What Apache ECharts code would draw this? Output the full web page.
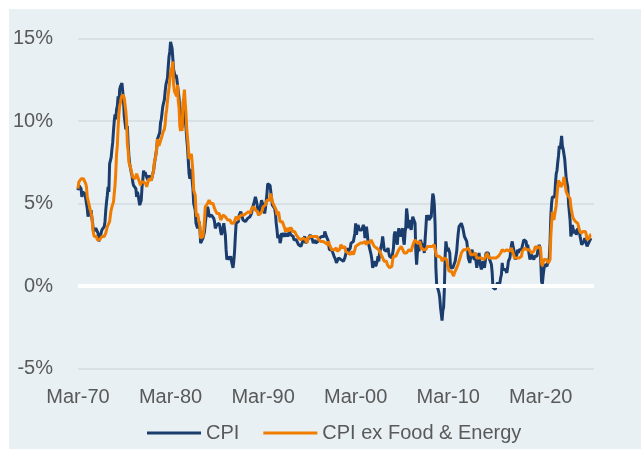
<!DOCTYPE html>
<html>
<head>
<meta charset="utf-8">
<script src="https://cdn.jsdelivr.net/npm/echarts@6/dist/echarts.min.js"></script>
<style>
html,body{margin:0;padding:0;background:#fff;}
#chart{width:641px;height:449px;}
</style>
</head>
<body>
<div id="chart"></div>
<script>
// Monthly categories: Mar-70 .. Dec-25
var monthNames = ['Jan','Feb','Mar','Apr','May','Jun','Jul','Aug','Sep','Oct','Nov','Dec'];
var categories = [];
for (var y = 1970; y <= 2025; y++) {
  for (var m = 0; m < 12; m++) {
    if (y === 1970 && m < 2) continue;
    categories.push(monthNames[m] + '-' + String(y % 100).padStart(2, '0'));
  }
}
var tickLabels = ['Mar-70','Mar-80','Mar-90','Mar-00','Mar-10','Mar-20'];
var yTicks = {min: -5, max: 15, interval: 5};

// CPI YoY %, Mar-70 .. Aug-25
var cpi = [
5.8,6.1,6.0,6.0,5.9,5.4,5.7,5.6,5.6,5.6,
5.3,5.0,4.7,4.2,4.4,4.6,4.4,4.6,4.1,3.8,3.3,3.3,
3.3,3.5,3.5,3.5,3.2,2.7,2.9,2.9,3.2,3.4,3.5,3.4,
3.6,3.9,4.6,5.1,5.5,6.0,5.7,7.4,7.4,7.8,8.3,8.7,
9.4,10.0,10.4,10.1,10.7,10.9,11.5,10.9,11.9,12.1,12.2,12.3,
11.8,11.2,10.3,10.2,9.5,9.4,9.7,8.6,7.9,7.4,7.4,6.9,
6.7,6.3,6.1,6.0,6.2,5.9,5.4,5.7,5.5,5.5,4.9,4.9,
5.2,6.0,6.4,7.0,6.7,6.9,6.8,6.6,6.6,6.4,6.7,6.7,
6.8,6.4,6.4,6.5,7.0,7.4,7.7,7.8,8.3,8.9,8.9,9.0,
9.3,9.9,10.1,10.5,10.9,10.9,11.3,11.8,12.2,12.1,12.6,13.3,
13.9,14.2,14.8,14.7,14.4,14.4,13.1,12.9,12.6,12.8,12.6,12.5,
11.8,11.4,10.5,10.0,9.8,9.6,10.8,10.8,11.0,10.1,9.6,8.9,
8.4,7.6,6.8,6.5,6.7,7.1,6.4,5.9,5.0,5.1,4.6,3.8,
3.7,3.5,3.6,3.9,3.5,2.6,2.5,2.6,2.9,2.9,3.3,3.8,
4.2,4.6,4.8,4.6,4.2,4.2,4.2,4.3,4.3,4.3,4.1,3.9,
3.5,3.5,3.7,3.7,3.8,3.8,3.6,3.3,3.1,3.2,3.5,3.8,
3.9,3.1,2.2,1.6,1.5,1.8,1.6,1.6,1.8,1.5,1.3,1.1,
1.5,2.1,3.0,3.8,3.9,3.7,3.9,4.3,4.4,4.5,4.5,4.4,
4.0,3.9,3.9,3.9,3.9,4.0,4.1,4.0,4.2,4.2,4.2,4.4,
4.7,4.8,5.0,5.1,5.4,5.2,5.0,4.7,4.3,4.5,4.7,4.6,
5.2,5.3,5.2,4.7,4.4,4.7,4.8,5.6,6.2,6.3,6.3,6.1,
5.7,5.3,4.9,4.9,5.0,4.7,4.4,3.8,3.4,2.9,3.0,3.1,
2.6,2.8,3.2,3.2,3.0,3.1,3.2,3.1,3.0,3.2,3.0,2.9,
3.3,3.2,3.1,3.2,3.2,3.0,2.8,2.8,2.7,2.8,2.7,2.7,
2.5,2.5,2.5,2.4,2.3,2.5,2.8,2.9,3.0,2.6,2.7,2.7,
2.8,2.9,2.9,3.1,3.2,3.0,2.8,2.6,2.5,2.8,2.6,2.5,
2.7,2.7,2.8,2.9,2.9,2.8,3.0,2.9,3.0,3.0,3.3,3.3,
3.0,3.0,2.8,2.5,2.2,2.3,2.2,2.2,2.2,2.1,1.8,1.7,
1.6,1.4,1.4,1.4,1.7,1.7,1.7,1.6,1.5,1.5,1.5,1.6,
1.7,1.6,1.7,2.3,2.1,2.0,2.1,2.3,2.6,2.6,2.6,2.7,
2.7,3.2,3.8,3.1,3.2,3.7,3.7,3.4,3.5,3.4,3.4,3.4,
3.7,3.5,2.9,3.3,3.6,3.2,2.7,2.7,2.6,2.1,1.9,1.6,
1.1,1.1,1.5,1.6,1.2,1.1,1.5,1.8,1.5,2.0,2.2,2.4,
2.6,3.0,3.0,2.2,2.1,2.1,2.1,2.2,2.3,2.0,1.8,1.9,
1.9,1.7,1.7,2.3,3.1,3.3,3.0,2.7,2.5,3.2,3.5,3.3,
3.0,3.0,3.1,3.5,2.8,2.5,3.2,3.6,4.7,4.3,3.5,3.4,
4.0,3.6,3.4,3.5,4.2,4.3,4.1,3.8,2.1,1.3,2.0,2.5,
2.1,2.4,2.8,2.6,2.7,2.7,2.4,2.0,2.8,3.5,4.3,4.1,
4.3,4.0,4.0,3.9,4.2,5.0,5.6,5.4,4.9,3.7,1.1,0.1,
0.0,0.2,-0.4,-0.7,-1.3,-1.4,-2.1,-1.5,-1.3,-0.2,1.8,2.7,
2.6,2.1,2.3,2.2,2.0,1.1,1.2,1.1,1.1,1.2,1.1,1.5,
1.6,2.1,2.7,3.2,3.6,3.6,3.6,3.8,3.9,3.5,3.4,3.0,
2.9,2.9,2.7,2.3,1.7,1.7,1.4,1.7,2.0,2.2,1.8,1.7,
1.6,2.0,1.5,1.1,1.4,1.8,2.0,1.5,1.2,1.0,1.2,1.5,
1.6,1.1,1.5,2.0,2.1,2.1,2.0,1.7,1.7,1.7,1.3,0.8,
-0.1,0.0,-0.1,-0.2,0.0,0.1,0.2,0.2,0.0,0.2,0.5,0.7,
1.4,1.0,0.9,1.1,1.0,1.0,0.8,1.1,1.5,1.6,1.7,2.1,
2.5,2.7,2.4,2.2,1.9,1.6,1.7,1.9,2.2,2.0,2.2,2.1,
2.1,2.2,2.4,2.5,2.8,2.9,2.9,2.7,2.3,2.5,2.2,1.9,
1.6,1.5,1.9,2.0,1.8,1.6,1.8,1.7,1.7,1.8,2.1,2.3,
2.5,2.3,1.5,0.3,0.1,0.6,1.0,1.3,1.4,1.2,1.2,1.4,
1.4,1.7,2.6,4.2,5.0,5.4,5.4,5.3,5.4,6.2,6.8,7.0,
7.5,7.9,8.5,8.3,8.6,9.1,8.5,8.3,8.2,7.7,7.1,6.5,
6.4,6.0,5.0,4.9,4.0,3.0,3.2,3.7,3.7,3.2,3.1,3.4,
3.1,3.2,3.5,3.4,3.3,3.0,2.9,2.5,2.4,2.6,2.7,2.9,
3.0,2.8,2.4,2.3,2.4,2.7,2.7,2.9
];

// CPI ex Food & Energy YoY %, Mar-70 .. Aug-25
var core = [
5.9,6.3,6.4,6.2,6.5,6.4,6.6,6.5,6.6,6.4,
6.2,6.0,5.4,5.2,5.0,4.8,4.6,4.5,4.2,3.6,3.2,3.0,
3.1,3.0,3.0,2.8,2.9,2.9,2.8,2.9,2.9,3.0,3.0,3.0,
3.0,3.1,3.2,3.4,3.6,3.7,3.5,3.9,4.3,4.6,4.8,4.7,
5.1,5.6,6.1,6.9,8.0,8.5,9.6,10.4,10.9,11.1,11.4,11.3,
11.6,11.7,11.4,11.0,10.6,10.0,8.6,8.2,7.5,7.4,7.2,7.0,
6.8,6.6,6.5,6.6,6.5,6.5,6.8,6.8,6.7,6.4,6.3,6.1,
6.3,6.2,6.2,6.3,6.3,6.4,6.2,6.0,6.2,6.2,6.5,6.5,
6.4,6.4,6.4,6.5,7.0,7.5,7.7,7.9,8.4,8.9,8.9,8.5,
8.6,8.8,8.9,9.1,9.3,9.3,9.5,9.8,10.4,10.7,11.2,11.3,
12.0,12.1,12.9,13.0,13.3,13.6,12.2,11.8,11.7,11.8,11.5,12.2,
11.2,10.8,9.7,9.4,9.6,9.4,11.1,11.4,11.9,11.1,10.5,9.5,
9.0,8.4,7.7,7.6,7.8,8.0,7.5,6.9,5.8,5.9,5.5,4.5,
4.2,4.4,4.5,4.4,3.6,2.9,2.8,3.0,3.0,3.4,4.0,4.8,
4.9,4.9,5.0,5.1,5.2,5.1,5.0,5.1,5.1,5.0,5.0,4.7,
4.6,4.6,4.4,4.4,4.4,4.4,4.2,4.0,4.1,4.1,4.3,4.3,
4.4,4.2,4.1,4.1,4.0,4.0,3.9,4.0,4.0,3.8,3.8,3.8,
3.8,3.8,3.8,4.2,4.1,4.1,4.0,4.2,4.3,4.3,4.3,4.2,
4.2,4.3,4.3,4.3,4.4,4.5,4.5,4.5,4.5,4.4,4.4,4.7,
4.6,4.6,4.8,4.7,4.6,4.5,4.6,4.5,4.3,4.3,4.4,4.4,
4.4,4.6,4.8,4.9,4.8,4.9,5.0,5.2,5.3,5.3,5.2,5.2,
5.6,5.5,5.1,5.1,5.0,4.8,4.7,4.6,4.3,4.4,4.5,4.4,
3.9,3.8,3.9,3.9,3.8,3.8,3.5,3.3,3.2,3.5,3.4,3.3,
3.5,3.4,3.5,3.5,3.3,3.3,3.3,3.3,3.2,3.1,3.2,3.2,
2.9,2.8,2.9,2.8,2.8,2.9,2.9,2.9,3.0,2.8,2.8,2.6,
2.9,3.0,3.0,3.0,3.1,3.0,3.0,3.0,2.9,3.0,3.0,3.0,
3.0,2.9,2.8,2.7,2.7,2.7,2.7,2.6,2.7,2.6,2.6,2.6,
2.5,2.5,2.5,2.7,2.5,2.4,2.4,2.2,2.2,2.3,2.2,2.2,
2.2,2.3,2.1,2.1,2.2,2.2,2.2,2.5,2.5,2.3,2.4,2.4,
2.4,2.1,2.1,2.2,2.0,2.1,2.1,1.9,2.0,2.1,2.1,1.9,
2.0,2.2,2.4,2.3,2.4,2.5,2.5,2.6,2.6,2.5,2.6,2.6,
2.6,2.7,2.7,2.6,2.5,2.7,2.7,2.7,2.6,2.6,2.8,2.7,
2.6,2.6,2.4,2.5,2.5,2.3,2.2,2.4,2.2,2.2,2.0,1.9,
1.9,1.7,1.7,1.5,1.6,1.5,1.5,1.3,1.2,1.3,1.1,1.1,
1.1,1.2,1.6,1.8,1.7,1.9,1.8,1.7,2.0,2.0,2.2,2.2,
2.3,2.4,2.3,2.2,2.2,2.0,2.1,2.1,2.0,2.1,2.1,2.2,
2.1,2.1,2.1,2.3,2.4,2.6,2.7,2.8,2.9,2.7,2.6,2.6,
2.7,2.7,2.5,2.3,2.2,2.2,2.2,2.1,2.1,2.2,2.3,2.4,
2.5,2.3,2.4,2.3,2.3,2.4,2.5,2.5,2.5,2.2,2.0,1.8,
1.7,1.8,1.8,1.9,1.8,1.7,1.5,1.4,1.5,1.7,1.7,1.8,
1.6,1.3,1.1,0.9,0.9,0.9,0.9,0.9,0.8,0.6,0.8,0.8,
1.0,1.1,1.2,1.3,1.5,1.6,1.8,2.0,2.0,2.1,2.2,2.2,
2.3,2.2,2.3,2.3,2.3,2.2,2.1,1.9,2.0,2.0,1.9,1.9,
1.9,2.0,1.9,1.7,1.7,1.6,1.7,1.8,1.7,1.7,1.7,1.7,
1.6,1.6,1.7,1.8,2.0,1.9,1.9,1.7,1.7,1.8,1.7,1.6,
1.6,1.7,1.8,1.8,1.7,1.8,1.8,1.8,1.9,1.9,2.0,2.1,
2.2,2.3,2.2,2.1,2.2,2.2,2.2,2.3,2.2,2.1,2.1,2.2,
2.3,2.2,2.0,1.9,1.7,1.7,1.7,1.7,1.7,1.8,1.7,1.8,
1.8,1.8,2.1,2.1,2.2,2.3,2.4,2.2,2.2,2.1,2.2,2.2,
2.2,2.1,2.0,2.1,2.0,2.1,2.2,2.4,2.4,2.3,2.3,2.3,
2.3,2.4,2.1,1.4,1.2,1.2,1.6,1.7,1.7,1.6,1.6,1.6,
1.4,1.3,1.6,3.0,3.8,4.5,4.3,4.0,4.0,4.6,4.9,5.5,
6.0,6.4,6.5,6.2,6.0,5.9,5.9,6.3,6.6,6.3,6.0,5.7,
5.6,5.5,5.6,5.5,5.3,4.8,4.7,4.3,4.1,4.0,4.0,3.9,
3.9,3.8,3.8,3.6,3.4,3.3,3.2,3.2,3.3,3.3,3.3,3.2,
3.3,3.1,2.8,2.8,2.8,2.9,3.1,3.1
];

var FONT = 'Liberation Sans';
var TXT = '#595959';
var chart = echarts.init(document.getElementById('chart'), null, {renderer: 'canvas'});
chart.setOption({
  animation: false,
  backgroundColor: '#ffffff',
  graphic: [{
    type: 'rect', z: -100, silent: true,
    shape: {x: 9, y: 9, width: 632, height: 440},
    style: {fill: '#E8F0F4'}
  }],
  grid: {left: 78, right: 47, top: 38.5, bottom: 80.5, containLabel: false},
  legend: {
    data: ['CPI', 'CPI ex Food & Energy'],
    left: 147, top: 423, padding: 0,
    icon: 'rect', itemWidth: 54, itemHeight: 3, itemGap: 24,
    textStyle: {fontFamily: FONT, fontSize: 20, color: TXT}
  },
  xAxis: {
    type: 'category',
    data: categories,
    boundaryGap: false,
    axisLine: {show: false},
    axisTick: {show: false},
    splitLine: {show: false},
    axisLabel: {
      interval: function (idx, val) { return tickLabels.indexOf(val) >= 0; },
      fontFamily: FONT, fontSize: 20, color: TXT, margin: 19
    }
  },
  yAxis: {
    type: 'value',
    min: yTicks.min, max: yTicks.max, interval: yTicks.interval,
    axisLine: {show: false},
    axisTick: {show: false},
    splitLine: {lineStyle: {color: '#D5DDE1', width: 1.5}},
    axisLabel: {formatter: '{value}%', fontFamily: FONT, fontSize: 20, color: TXT, margin: 25}
  },
  series: [
    {
      name: 'zero', type: 'line', data: [], z: 1, silent: true,
      markLine: {
        silent: true, symbol: ['none', 'none'],
        label: {show: false},
        lineStyle: {color: '#ffffff', width: 4, type: 'solid'},
        data: [{yAxis: 0}]
      }
    },
    {
      name: 'CPI', type: 'line', data: cpi, z: 3,
      showSymbol: false, symbol: 'none',
      lineStyle: {color: '#1A3D6D', width: 3},
      itemStyle: {color: '#1A3D6D'}
    },
    {
      name: 'CPI ex Food & Energy', type: 'line', data: core, z: 4,
      showSymbol: false, symbol: 'none',
      lineStyle: {color: '#F07D00', width: 3},
      itemStyle: {color: '#F07D00'}
    }
  ]
});
</script>
</body>
</html>
